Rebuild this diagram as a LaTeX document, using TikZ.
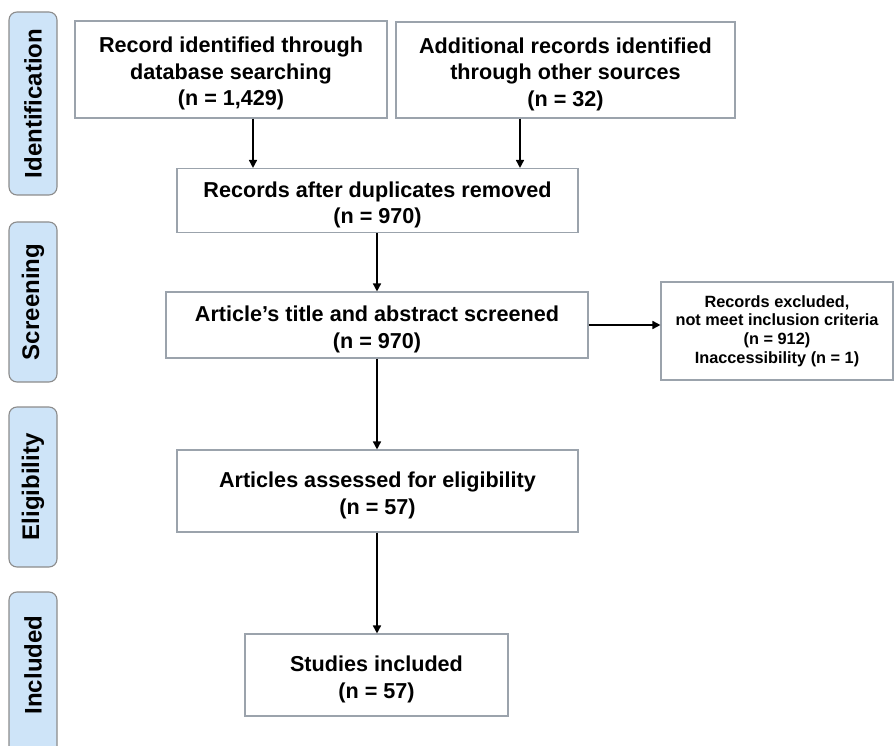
\documentclass[tikz,border=0pt]{standalone}
\usepackage{fontspec}
\setmainfont{Liberation Sans}
\usetikzlibrary{arrows.meta,positioning}
\definecolor{sidefill}{RGB}{206,228,248}
\definecolor{sideline}{RGB}{140,140,140}
\definecolor{boxline}{RGB}{155,163,172}
\newcommand{\tstrut}{\rule{0pt}{24pt}}
\tikzset{
  sidebox/.style={draw=sideline, fill=sidefill, line width=1.1pt, rounded corners=8pt,
    minimum width=48pt, inner sep=0pt},
  sidetext/.style={rotate=90, font=\fontsize{24}{28}\selectfont\bfseries, inner sep=0pt},
  flowbox/.style={draw=boxline, line width=1.1pt, align=center, inner sep=0pt,
    font=\fontsize{21.6}{26.5}\selectfont\bfseries},
  smallbox/.style={draw=boxline, line width=1.1pt, align=center, inner sep=0pt,
    font=\fontsize{16.3}{18.8}\selectfont\bfseries},
  arr/.style={line width=1.6pt, -{Triangle[length=8pt,width=8pt]}}
}
\begin{document}
\begin{tikzpicture}[x=1pt,y=-1pt]
\useasboundingbox (0,0) rectangle (894,746);
\begin{scope}
\clip (0,0) rectangle (894,746);
% side labels
\node[sidebox, minimum height=183pt] (sid) at (33,103.5) {};
\node[sidetext] at (sid.center) {Identification};
\node[sidebox, minimum height=160pt] (sscr) at (33,302) {};
\node[sidetext] at (sscr.center) {Screening};
\node[sidebox, minimum height=160pt] (selig) at (33,487) {};
\node[sidetext] at (selig.center) {Eligibility};
\node[sidebox, minimum height=170pt] (sinc) at (33,677) {};
\node[sidetext] at (33,665) {Included};
% flow boxes
\node[flowbox, minimum width=312pt, minimum height=97pt] (b1) at (231,69.5)
  {\tstrut Record identified through\\database searching\\(n = 1,429)};
\node[flowbox, minimum width=339pt, minimum height=96pt] (b2) at (565.5,70)
  {\tstrut Additional records identified\\through other sources\\(n = 32)};
\node[flowbox, minimum width=401pt, minimum height=64pt] (b3) at (377.5,200.5)
  {\tstrut Records after duplicates removed\\(n = 970)};
\node[flowbox, minimum width=422pt, minimum height=66pt] (b4) at (377,325)
  {\tstrut Article’s title and abstract screened\\(n = 970)};
\node[smallbox, minimum width=232pt, minimum height=98pt] (b5) at (777,331)
  {Records excluded,\\not meet inclusion criteria\\(n = 912)\\Inaccessibility (n = 1)};
\node[flowbox, minimum width=401pt, minimum height=82pt] (b6) at (377.5,491)
  {\tstrut Articles assessed for eligibility\\(n = 57)};
\node[flowbox, minimum width=263pt, minimum height=82pt] (b7) at (376.5,675)
  {\tstrut Studies included\\(n = 57)};
% connectors
\draw[arr] (b1.south -| 253,0) -- (b3.north -| 253,0);
\draw[arr] (b2.south -| 520,0) -- (b3.north -| 520,0);
\draw[arr] (b3.south -| 377,0) -- (b4.north -| 377,0);
\draw[arr] (b4.east) -- (b4.east -| b5.west);
\draw[arr] (b4.south -| 377,0) -- (b6.north -| 377,0);
\draw[arr] (b6.south -| 377,0) -- (b7.north -| 377,0);
\end{scope}
\end{tikzpicture}
\end{document}
